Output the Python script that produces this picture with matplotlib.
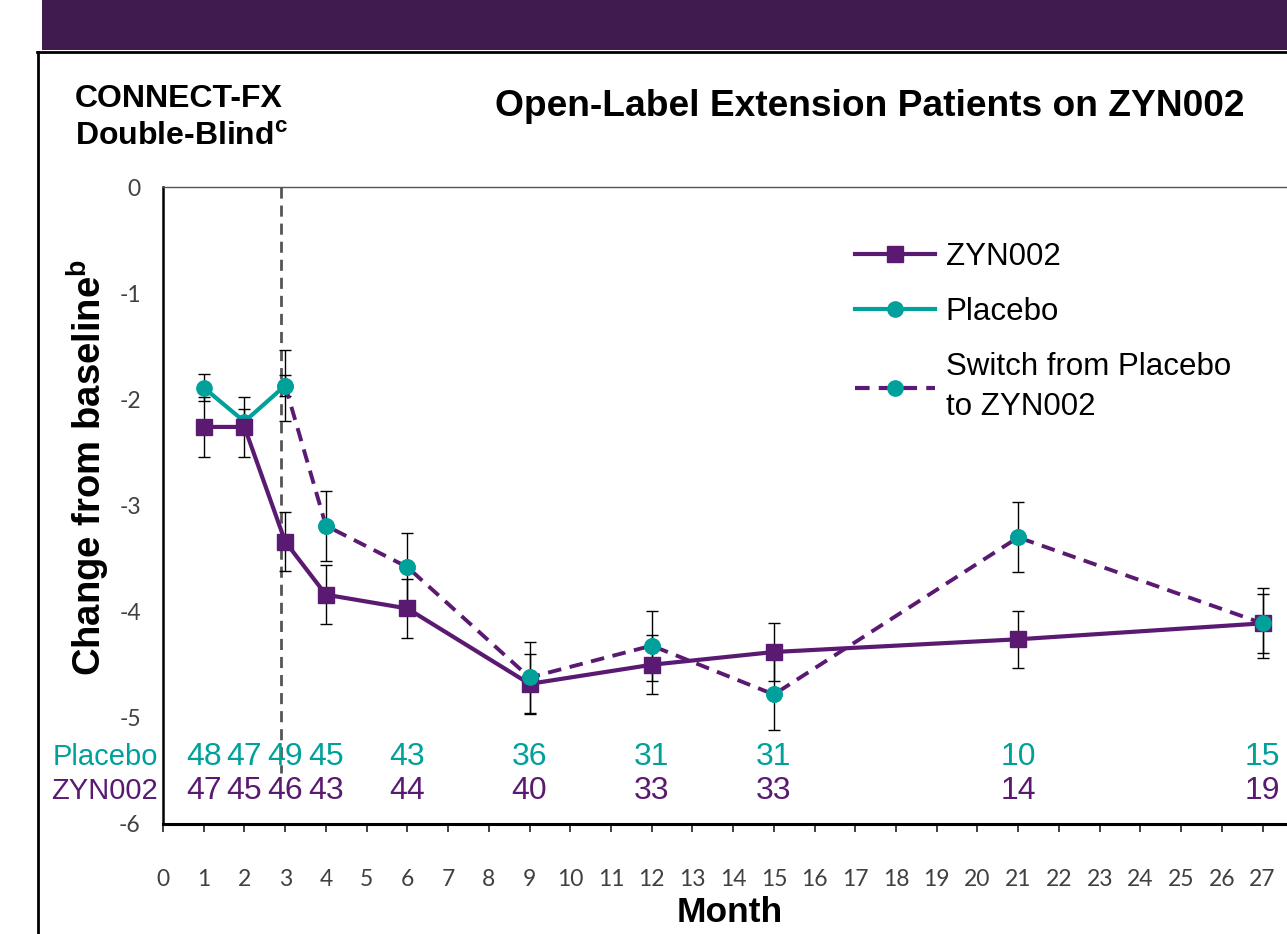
import matplotlib.pyplot as plt
from matplotlib.lines import Line2D
from matplotlib.patches import Rectangle

plt.rcParams['font.family'] = ['Liberation Sans', 'DejaVu Sans']
plt.rcParams['axes.unicode_minus'] = False
plt.rcParams['mathtext.fontset'] = 'custom'
plt.rcParams['mathtext.rm'] = 'Liberation Sans'
plt.rcParams['mathtext.bf'] = 'Liberation Sans:bold'

PURPLE = '#5a1a72'
TEAL = '#00a19b'
BAND = '#3f1b50'

# data
zyn_months = [1, 2, 3, 4, 6, 9, 12, 15, 21, 27]
zyn_change = [-2.26, -2.26, -3.34, -3.84, -3.97, -4.68, -4.50, -4.38, -4.26, -4.11]
zyn_err = [0.28, 0.28, 0.28, 0.28, 0.28, 0.28, 0.28, 0.27, 0.27, 0.28]

pbo_months = [1, 2, 3]
pbo_change = [-1.89, -2.21, -1.87]
pbo_err = [0.13, 0.12, 0.33]

sw_months = [3, 4, 6, 9, 12, 15, 21, 27]
sw_change = [-1.87, -3.19, -3.58, -4.62, -4.32, -4.78, -3.30, -4.11]
sw_err = [0.10, 0.33, 0.32, 0.33, 0.33, 0.33, 0.33, 0.33]

n_months = [1, 2, 3, 4, 6, 9, 12, 15, 21, 27]
n_placebo = [48, 47, 49, 45, 43, 36, 31, 31, 10, 15]
n_zyn = [47, 45, 46, 43, 44, 40, 33, 33, 14, 19]

W, H = 1287, 934
fig = plt.figure(figsize=(W / 100, H / 100), dpi=100)

# slide decoration
fig.add_artist(Rectangle((42 / W, 1 - 50 / H), 1, 50 / H, transform=fig.transFigure,
                         color=BAND, lw=0))
fig.add_artist(Line2D([37 / W, 1], [1 - 52 / H] * 2, transform=fig.transFigure, color='black', lw=2))
fig.add_artist(Line2D([38 / W] * 2, [0, 1 - 52 / H], transform=fig.transFigure, color='black', lw=2))

ax = fig.add_axes([163 / W, 1 - 824 / H, (W - 163) / W, 637 / H])

# error bars first, then the lines on top
eb = dict(fmt='none', ecolor='black', elinewidth=1.0, capsize=4.5, capthick=1.0, zorder=2)
ax.errorbar(zyn_months, zyn_change, yerr=zyn_err, **eb)
ax.errorbar(pbo_months, pbo_change, yerr=pbo_err, **eb)
ax.errorbar(sw_months, sw_change, yerr=sw_err, **eb)

ax.plot(sw_months, sw_change, color=PURPLE, lw=2.8, ls=(0, (3.5, 2.2)),
        marker='o', ms=11, mfc=TEAL, mec=TEAL, zorder=3)
ax.plot(zyn_months, zyn_change, color=PURPLE, lw=3.0, marker='s', ms=11.5,
        mfc=PURPLE, mec=PURPLE, zorder=4)
ax.plot(pbo_months, pbo_change, color=TEAL, lw=3.0, marker='o', ms=11,
        mfc=TEAL, mec=TEAL, zorder=3)
# re-draw switch markers above the ZYN002 squares
ax.plot(sw_months[1:], sw_change[1:], ls='none', marker='o', ms=11,
        mfc=TEAL, mec=TEAL, zorder=5)

ax.plot([2.9, 2.9], [0, -5.52], color='#555555', lw=2.0, ls=(0, (4, 2.5)), zorder=1)

# patient numbers
for m, a, b in zip(n_months, n_placebo, n_zyn):
    ax.text(m, -5.44, str(a), color=TEAL, fontsize=23, ha='center', va='baseline')
    ax.text(m, -5.76, str(b), color=PURPLE, fontsize=23, ha='center', va='baseline')
ax.text(-0.12, -5.44, 'Placebo', color=TEAL, fontsize=21, ha='right', va='baseline')
ax.text(-0.12, -5.76, 'ZYN002', color=PURPLE, fontsize=21, ha='right', va='baseline')

ax.set_xlim(0, 27.6)
ax.set_ylim(-6, 0)
ax.set_xticks(range(0, 28))
ax.set_xticklabels([str(i) for i in range(0, 28)])
ax.set_yticks(range(-6, 1))
ax.set_yticklabels([str(i) for i in range(-6, 1)])
ax.tick_params(axis='both', labelsize=16.5, labelcolor='#404040', labelfontfamily='Lato')
ax.xaxis.set_tick_params(direction='out', length=6, width=1.3, color='#333333')
ax.xaxis.set_tick_params(pad=26.5)
ax.tick_params(axis='y', length=0, pad=16)

ax.spines['right'].set_visible(False)
ax.spines['left'].set_linewidth(1.8)
ax.spines['bottom'].set_linewidth(2.2)
ax.spines['top'].set_linewidth(1.0)
ax.spines['top'].set_color('#555555')

handles = [
    Line2D([], [], color=PURPLE, lw=3.0, marker='s', ms=11.5, mfc=PURPLE, mec=PURPLE),
    Line2D([], [], color=TEAL, lw=3.0, marker='o', ms=11, mfc=TEAL, mec=TEAL),
    Line2D([], [], color=PURPLE, lw=3.0, ls=(0, (3.5, 2.2)), marker='o', ms=11, mfc=TEAL, mec=TEAL),
]
leg = ax.legend(handles, ['ZYN002', 'Placebo', 'Switch from Placebo\nto ZYN002'],
                loc='upper left', bbox_to_anchor=(855 / W, 1 - 242 / H),
                bbox_transform=fig.transFigure, frameon=False, fontsize=22.5,
                handlelength=2.55, handletextpad=0.35, labelspacing=0.8,
                borderpad=0, borderaxespad=0)
for t in leg.get_texts():
    t.set_linespacing(1.45)

fig.text(870 / W, 1 - 106 / H, 'Open-Label Extension Patients on ZYN002',
         fontsize=26.7, fontweight='bold', ha='center', va='center')
fig.text(75 / W, 1 - 99 / H, 'CONNECT-FX', fontsize=23, fontweight='bold',
         ha='left', va='center')
fig.text(75 / W, 1 - 137 / H, r'Double-Blind$^{\mathbf{c}}$', fontsize=23,
         fontweight='bold', ha='left', va='center')
fig.text(88 / W, 1 - 467 / H, r'Change from baseline$^{\mathbf{b}}$', fontsize=27.5,
         fontweight='bold', rotation=90, ha='center', va='center')
fig.text(730 / W, 1 - 912 / H, 'Month', fontsize=25.5, fontweight='bold',
         ha='center', va='center')

fig.savefig('out.png', dpi=100)
